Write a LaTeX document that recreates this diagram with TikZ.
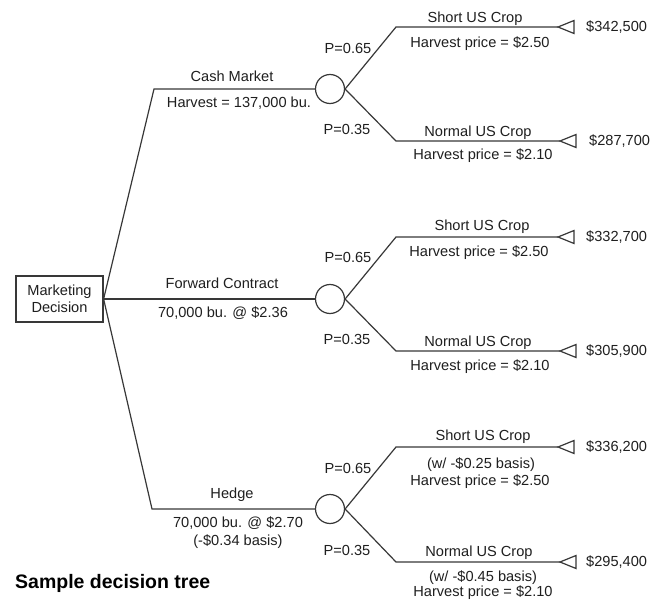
\documentclass[tikz,border=0pt]{standalone}
\usepackage{fontspec}
\setmainfont{Liberation Sans}
\begin{document}
\begin{tikzpicture}[x=1pt,y=-1pt,
  ln/.style={draw=black!78,line width=1.2pt},
  lbl/.style={text=black!88,inner sep=0pt,font=\fontsize{14.6}{17}\selectfont},
  val/.style={lbl,anchor=west},
  chance/.style={circle,ln,minimum size=29pt,inner sep=0pt},
  dbox/.style={rectangle,ln,minimum width=87pt,minimum height=46pt,inner sep=0pt,align=center,text=black!88,font=\fontsize{14.6}{17}\selectfont},
  term/.style={ln,line join=miter}]
\useasboundingbox (0,0) rectangle (654,602);
\fill[white] (0,0) rectangle (654,602);

% decision node
\node[dbox] (md) at (59.5,299) {Marketing\\Decision};

% chance nodes
\node[chance] (c1) at (330,89) {};
\node[chance] (c2) at (330,299) {};
\node[chance] (c3) at (330,509) {};

% corners
\coordinate (k1) at (154,89);
\coordinate (k3) at (152,509);

\draw[ln] (md.east) -- (k1) -- (c1.west);
\draw[ln] (md.east) -- (c2.west);
\draw[ln] (md.east) -- (k3) -- (c3.west);

% branch coordinates
\foreach \i/\yu/\yl in {1/27/141, 2/237/351, 3/447/562}{
  \coordinate (u\i) at (396,\yu);
  \coordinate (ue\i) at (558,\yu);
  \coordinate (l\i) at (396,\yl);
  \coordinate (le\i) at (560,\yl);
}
\foreach \i in {1,2,3}{
  \draw[ln] (c\i.east) -- (u\i) -- (ue\i);
  \draw[ln] (c\i.east) -- (l\i) -- (le\i);
  \draw[term] (ue\i) -- ++(16,-6.5) -- ++(0,13) -- cycle;
  \draw[term] (le\i) -- ++(16,-6.5) -- ++(0,13) -- cycle;
}

% values
\node[val] (v1) at (586,27) {\$342,500};
\node[val] (v2) at (589,141) {\$287,700};
\node[val] (v3) at (586,237) {\$332,700};
\node[val] (v4) at (586,351) {\$305,900};
\node[val] (v5) at (586,447) {\$336,200};
\node[val] (v6) at (586,562) {\$295,400};

% decision branch labels
\node[lbl] (t1) at (232,76) {Cash Market};
\node[lbl] (t2) at (239,103) {Harvest = 137,000 bu.};
\node[lbl] (t3) at (222,283) {Forward Contract};
\node[lbl] (t4) at (223,313) {70,000 bu. @ \$2.36};
\node[lbl] (t5) at (232,495) {Hedge};
\node[lbl] (t6) at (238,523) {70,000 bu. @ \$2.70};
\node[lbl] (t7) at (238,542) {(-\$0.34 basis)};

% probabilities
\node[lbl] (p1) at (348,48) {P=0.65};
\node[lbl] (p2) at (347,129) {P=0.35};
\node[lbl] (p3) at (348,257) {P=0.65};
\node[lbl] (p4) at (347,339) {P=0.35};
\node[lbl] (p5) at (348,468) {P=0.65};
\node[lbl] (p6) at (347,550) {P=0.35};

% outcome labels
\node[lbl] (o1) at (475,19) {Short US Crop};
\node[lbl] (o2) at (480,44) {Harvest price = \$2.50};
\node[lbl] (o3) at (478,133) {Normal US Crop};
\node[lbl] (o4) at (483,156) {Harvest price = \$2.10};
\node[lbl] (o5) at (482,227) {Short US Crop};
\node[lbl] (o6) at (479,253) {Harvest price = \$2.50};
\node[lbl] (o7) at (478,343) {Normal US Crop};
\node[lbl] (o8) at (480,367) {Harvest price = \$2.10};
\node[lbl] (o9) at (483,437) {Short US Crop};
\node[lbl] (o10) at (481,465) {(w/ -\$0.25 basis)};
\node[lbl] (o11) at (480,482) {Harvest price = \$2.50};
\node[lbl] (o12) at (479,553) {Normal US Crop};
\node[lbl] (o13) at (483,578) {(w/ -\$0.45 basis)};
\node[lbl] (o14) at (483,593) {Harvest price = \$2.10};

% title
\node[anchor=west,inner sep=0pt,font=\fontsize{19.5}{22}\selectfont\bfseries] (title) at (15,583) {Sample decision tree};
\end{tikzpicture}
\end{document}
